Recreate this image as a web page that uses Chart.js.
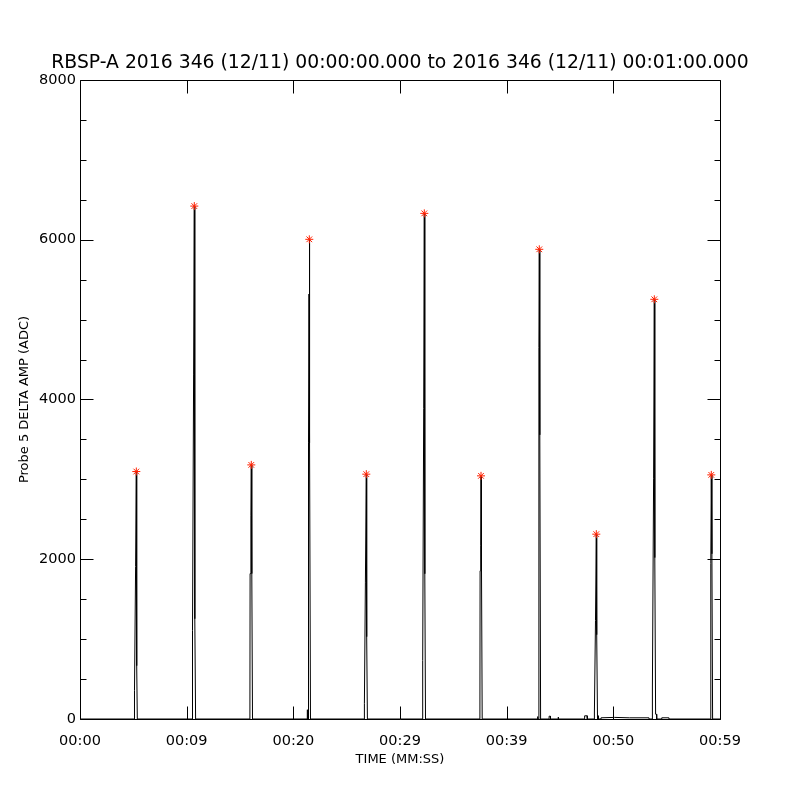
<!DOCTYPE html>
<html>
<head>
<meta charset="utf-8">
<title>RBSP-A Probe 5 DELTA AMP</title>
<script src="https://cdn.jsdelivr.net/npm/chart.js@4.4.1/dist/chart.umd.min.js"></script>
<style>
  html, body { margin: 0; padding: 0; background: #fff; }
  #wrap { width: 800px; height: 800px; }
</style>
</head>
<body>
<div id="wrap"><canvas id="probeChart" width="800" height="800"></canvas></div>
<script>
/* =============================
   DATA (seconds after 00:00:00, ADC counts)
============================= */
const sampleTimes = [
  0,
  5.091, 5.109, 5.213, 5.278, 5.316, 5.372,
  10.528, 10.547, 10.650, 10.716, 10.763, 10.838,
  15.928, 15.947, 16.022, 16.059, 16.106, 16.172,
  21.291, 21.309, 21.328, 21.403, 21.422, 21.469, 21.497, 21.544, 21.609,
  26.644, 26.663, 26.756, 26.841, 26.878, 26.944,
  32.109, 32.128, 32.222, 32.278, 32.325, 32.391,
  37.491, 37.509, 37.566, 37.594, 37.641, 37.706,
  42.900, 42.909, 42.919, 42.994, 43.013, 43.031, 43.059, 43.106, 43.181,
  43.97, 43.98, 44.10, 44.11, 44.83, 44.84, 44.85, 47.30, 47.31, 47.55, 47.56,
  48.206, 48.225, 48.328, 48.403, 48.441, 48.516, 48.581, 48.609,
  48.84, 48.85, 50.10, 51.50, 53.34, 53.35,
  53.644, 53.663, 53.775, 53.841, 53.888, 53.963, 54.047, 54.066,
  54.53, 54.54, 55.21, 55.22,
  59.119, 59.138, 59.184, 59.241, 59.306,
  60
];
const sampleAmps = [
  0,
  0, 354, 1909, 3098, 667, 0,
  0, 1105, 4307, 6421, 1255, 0,
  0, 1820, 2543, 3181, 1820, 0,
  0, 116, 0, 0, 3456, 5320, 6005, 3456, 0,
  0, 191, 1714, 3065, 1030, 0,
  0, 733, 3890, 6330, 1818, 0,
  0, 1855, 2168, 3044, 1855, 0,
  0, 30, 0, 0, 3557, 4649, 5880, 3557, 0,
  0, 35, 35, 0, 0, 25, 0, 0, 40, 40, 0,
  0, 75, 1230, 2314, 1055, 0, 40, 0,
  0, 15, 20, 15, 15, 0,
  0, 388, 3015, 5254, 2020, 60, 60, 0,
  0, 15, 15, 0,
  0, 1943, 3056, 2068, 0,
  0
];

const peakTimes = [5.278, 10.716, 16.059, 21.497, 26.841, 32.278, 37.594, 43.059, 48.403, 53.841, 59.184];
const peakAmps = [3098, 6421, 3181, 6005, 3065, 6330, 3044, 5880, 2314, 5254, 3056];

const xTickValues = [0, 10, 20, 30, 40, 50, 60];
const xTickLabels = ["00:00", "00:09", "00:20", "00:29", "00:39", "00:50", "00:59"];
const yTickValues = [0, 2000, 4000, 6000, 8000];
const yMinorStep = 500;

/* =============================
   IDL STYLE FRAME + INWARD TICKS
============================= */
const frame = {
  id: "frame",
  afterDraw(chart) {
    const { ctx, chartArea: a, scales: { x, y } } = chart;
    const px = v => Math.round(v) + 0.5;
    const L = px(a.left), R = px(a.right), T = px(a.top), B = px(a.bottom);

    ctx.save();
    ctx.strokeStyle = "#000";
    ctx.lineWidth = 1;
    ctx.beginPath();
    ctx.rect(L, T, R - L, B - T);

    xTickValues.forEach(v => {
      const xp = px(x.getPixelForValue(v));
      ctx.moveTo(xp, B); ctx.lineTo(xp, B - 13);
      ctx.moveTo(xp, T); ctx.lineTo(xp, T + 13);
    });

    for (let v = y.min; v <= y.max; v += yMinorStep) {
      const yp = px(y.getPixelForValue(v));
      const len = yTickValues.includes(v) ? 13 : 6;
      ctx.moveTo(L, yp); ctx.lineTo(L + len, yp);
      ctx.moveTo(R, yp); ctx.lineTo(R - len, yp);
    }
    ctx.stroke();
    ctx.restore();
  }
};

/* =============================
   CHART
============================= */
Chart.defaults.font.family = "'DejaVu Sans', sans-serif";
Chart.defaults.color = "#000";

const lineData = sampleTimes.map((t, i) => ({ x: t, y: sampleAmps[i] }));
const peakData = peakTimes.map((t, i) => ({ x: t, y: peakAmps[i] }));

new Chart(document.getElementById("probeChart"), {
  type: "scatter",
  data: {
    datasets: [
      {
        label: "Peak",
        data: peakData,
        pointStyle: "star",
        pointRadius: 4,
        borderWidth: 1,
        borderColor: "#ff2000",
        backgroundColor: "#ff2000",
        order: 0
      },
      {
        label: "Probe 5 DELTA AMP",
        data: lineData,
        showLine: true,
        borderColor: "#000",
        borderWidth: 1,
        borderJoinStyle: "bevel",
        pointRadius: 0,
        tension: 0,
        order: 1
      }
    ]
  },
  options: {
    responsive: false,
    animation: false,
    layout: { padding: 0 },
    plugins: {
      legend: { display: false },
      tooltip: { enabled: false },
      title: {
        display: true,
        text: "RBSP-A 2016 346 (12/11) 00:00:00.000 to 2016 346 (12/11) 00:01:00.000",
        color: "#000",
        font: { size: 18.8, weight: "normal", lineHeight: 1.2 },
        padding: { top: 52, bottom: 5.4 }
      }
    },
    scales: {
      x: {
        type: "linear",
        min: 0,
        max: 60,
        afterBuildTicks: s => { s.ticks = xTickValues.map(v => ({ value: v })); },
        afterFit: s => { s.height = 81; },
        grid: { display: false, drawTicks: false },
        border: { display: false },
        ticks: {
          callback: (v, i) => xTickLabels[i],
          padding: 14,
          autoSkip: false,
          maxRotation: 0,
          font: { size: 14.5 }
        },
        title: {
          display: true,
          text: "TIME (MM:SS)",
          font: { size: 13 },
          padding: { top: 0, bottom: 33 }
        }
      },
      y: {
        type: "linear",
        min: 0,
        max: 8000,
        afterBuildTicks: s => { s.ticks = yTickValues.map(v => ({ value: v })); },
        afterFit: s => { s.width = 80; },
        grid: { display: false, drawTicks: false },
        border: { display: false },
        ticks: {
          callback: v => String(v),
          padding: 4,
          font: { size: 14.5 }
        },
        title: {
          display: true,
          text: "Probe 5 DELTA AMP (ADC)",
          font: { size: 13 },
          padding: { top: 17, bottom: 0 }
        }
      },
      // empty right-hand scale, keeps the plot box at 80..720
      yRight: {
        type: "linear",
        position: "right",
        min: 0,
        max: 8000,
        afterFit: s => { s.width = 80; },
        grid: { display: false, drawTicks: false },
        border: { display: false },
        ticks: { display: false }
      }
    }
  },
  plugins: [frame]
});
</script>
</body>
</html>
